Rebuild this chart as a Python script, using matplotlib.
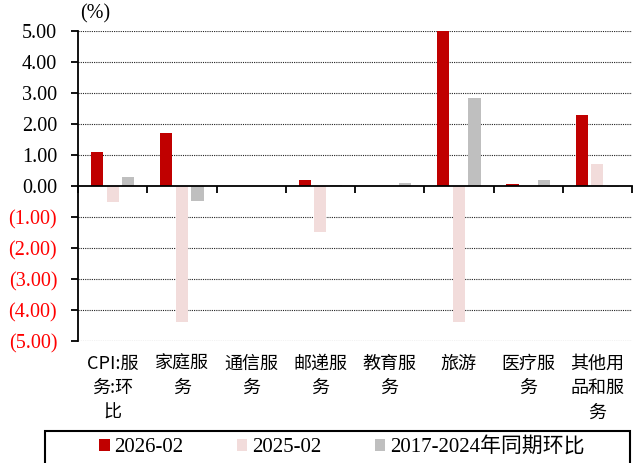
import numpy as np
import matplotlib.pyplot as plt
from matplotlib.patches import Rectangle
from matplotlib.transforms import blended_transform_factory

plt.rcParams['font.family'] = ['Liberation Serif', 'Noto Sans CJK SC']

categories = ["CPI:服\n务:环\n比", "家庭服\n务", "通信服\n务", "邮递服\n务", "教育服\n务",
              "旅游", "医疗服\n务", "其他用\n品和服\n务"]
s2026 = [1.10, 1.70, 0.0, 0.20, 0.0, 5.00, 0.08, 2.28]
s2025 = [-0.50, -4.40, 0.0, -1.48, 0.0, -4.40, 0.0, 0.70]
s_hist = [0.28, -0.48, 0.0, 0.03, 0.11, 2.85, 0.18, -0.03]
labels = ["2026-02", "2025-02", "2017-2024年同期环比"]
colors = ["#C00000", "#F2DCDB", "#BFBFBF"]
yticks = [5, 4, 3, 2, 1, 0, -1, -2, -3, -4, -5]

fig = plt.figure(figsize=(6.41, 4.63), dpi=100)
ax = fig.add_axes([78/641, 1-341/463, (632-78)/641, (341-31)/463])

x = np.arange(len(categories))
w = 0.175
for i, (vals, c) in enumerate(zip([s2026, s2025, s_hist], colors)):
    ax.bar(x + (i-1)*0.225, vals, width=w, color=c, label=labels[i], zorder=3)

ax.set_xlim(-0.5, len(categories)-0.5)
ax.set_ylim(-5, 5)

# grid
for v in yticks:
    if v != 0:
        ax.axhline(v, color='#222222', lw=0.8, ls=(0, (1, 1)), zorder=1)

ax.spines['top'].set_visible(False)
ax.spines['right'].set_visible(False)
ax.spines['bottom'].set_position(('data', 0))
ax.spines['bottom'].set_linewidth(1.3)
ax.spines['left'].set_linewidth(1.3)
ax.spines['bottom'].set_zorder(4)

ax.set_xticks(np.arange(len(categories)+1) - 0.5)
ax.set_xticklabels([])
ax.tick_params(axis='x', direction='out', length=5, width=1.3)

ax.set_yticks(yticks)
ax.set_yticklabels([f"{v:.2f}" if v >= 0 else f"({-v:.2f})" for v in yticks], fontsize=14.5)
for lab, v in zip(ax.get_yticklabels(), yticks):
    lab.set_color('black' if v >= 0 else '#FF0000')
ax.tick_params(axis='y', direction='out', length=5, width=1.3, pad=10)

trans = blended_transform_factory(ax.transData, ax.transAxes)
for xi, cat in zip(x, categories):
    ax.text(xi, -0.045, cat, transform=trans, ha='center', va='top',
            fontsize=13, family='Noto Sans CJK SC', linespacing=1.45)

fig.text(80/641, 1-14/463, "(%)", fontsize=14.5, va='center', ha='left')

# legend box
fig.patches.append(Rectangle((45/641, -0.05), 585/641, 0.05 + 1-431/463,
                             transform=fig.transFigure, fill=False, ec='black', lw=1.5))
leg = fig.legend(loc='center', bbox_to_anchor=(0.533, 1-447/463), ncol=3, frameon=False,
                 fontsize=15, handlelength=0.5, handleheight=0.5, handletextpad=0.2,
                 columnspacing=2.6)

fig.savefig("out.png", dpi=100)
